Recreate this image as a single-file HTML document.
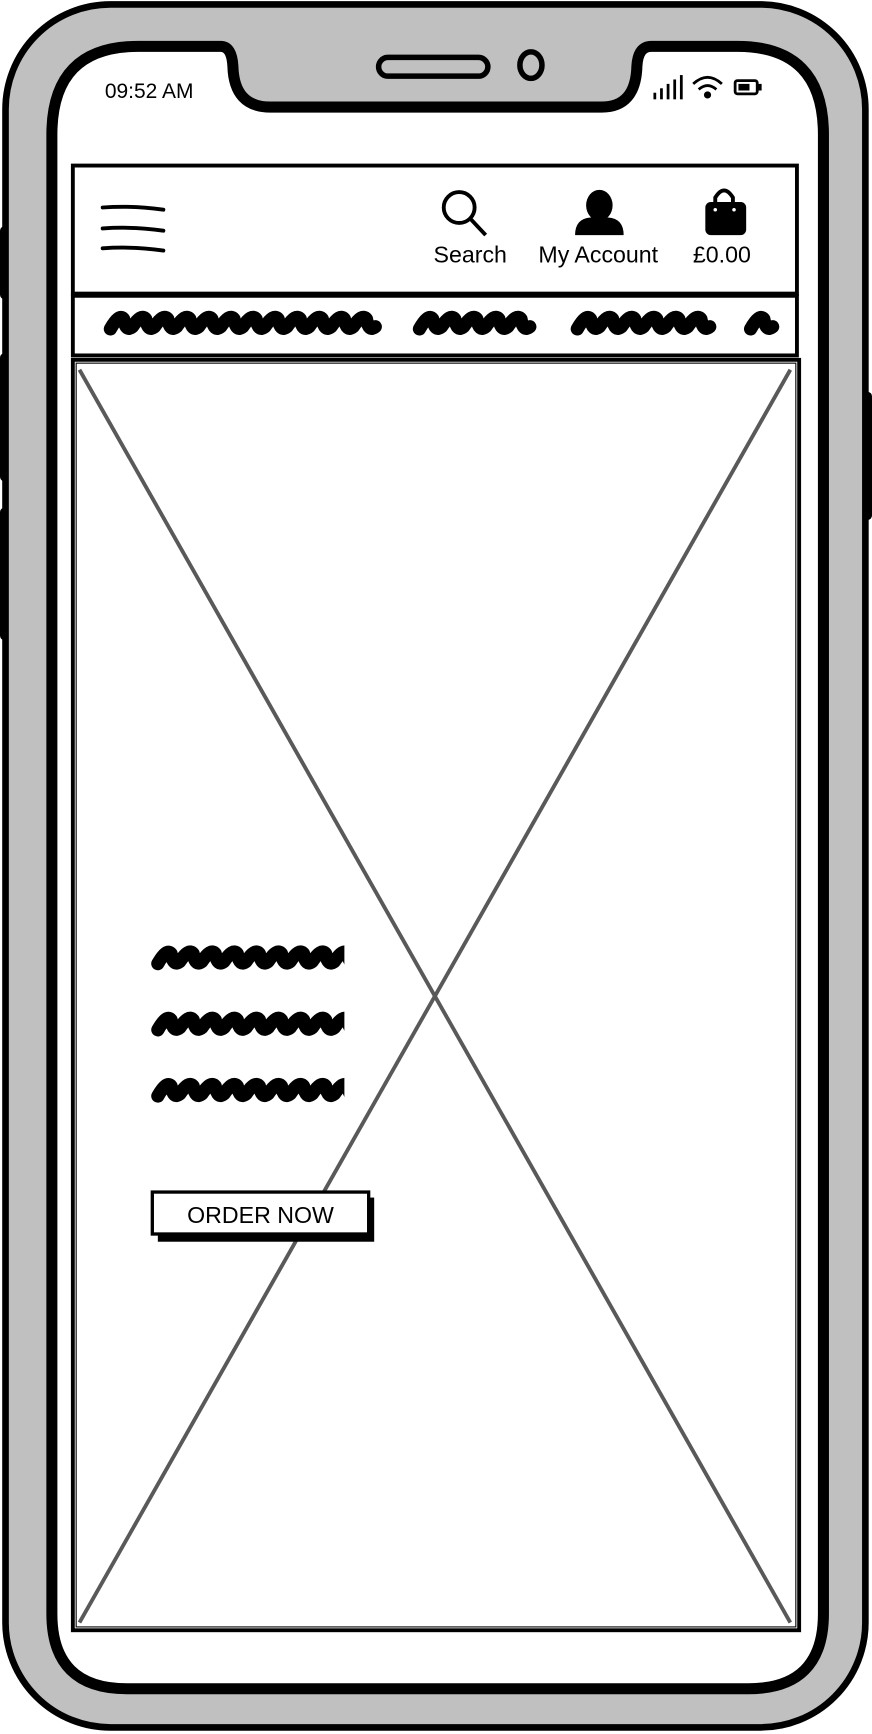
<!DOCTYPE html>
<html><head><meta charset="utf-8"><style>
html,body{margin:0;padding:0;background:#fff;}
svg{display:block;}
text{font-family:"Liberation Sans",sans-serif;fill:#000;}
</style></head><body>
<svg width="872" height="1734" viewBox="0 0 790 1571" preserveAspectRatio="none" xmlns="http://www.w3.org/2000/svg">
  <g fill="#000">
    <rect x="0" y="205" width="10" height="66" rx="4"/>
    <rect x="0" y="320" width="10" height="116" rx="4"/>
    <rect x="0" y="460" width="10" height="120" rx="4"/>
    <rect x="778" y="355" width="12" height="116" rx="4"/>
  </g>
  <rect x="5" y="4" width="779" height="1561" rx="95" fill="#c0c0c0" stroke="#000" stroke-width="6"/>
  <path d="M125 42 L200 42 Q210 42 211 60 Q212 97 245 97 L545 97 Q576 97 577 60 Q578 42 590 42 L668 42 Q746 42 746 122 L746 1462 Q746 1530 678 1530 L115 1530 Q47 1530 47 1462 L47 122 Q47 42 125 42 Z" fill="#fff" stroke="#000" stroke-width="10"/>
  <rect x="343" y="52" width="99" height="17" rx="8.5" fill="none" stroke="#000" stroke-width="5"/>
  <ellipse cx="481" cy="59" rx="10" ry="12" fill="none" stroke="#000" stroke-width="5"/>
  <text x="95" y="89" font-size="19">09:52 AM</text>
  <g fill="#000">
    <rect x="592" y="84" width="2.5" height="6"/><rect x="598" y="80" width="2.5" height="10"/><rect x="604" y="76" width="2.5" height="14"/><rect x="610" y="72" width="2.5" height="18"/><rect x="616" y="68" width="2.5" height="22"/>
  </g>
  <g fill="none" stroke="#000" stroke-width="2.5">
    <path d="M628 76 Q641 64 654 76"/><path d="M633 81 Q641 74 649 81"/><circle cx="641" cy="86" r="2" fill="#000"/>
  </g>
  <g>
    <rect x="666" y="73" width="20" height="12" rx="2" fill="none" stroke="#000" stroke-width="2.5"/>
    <rect x="669" y="76" width="10" height="6" fill="#000"/>
    <rect x="687" y="76" width="3" height="6" fill="#000"/>
  </g>
  <rect x="66" y="150" width="656" height="116" fill="#fff" stroke="#000" stroke-width="3.5"/>
  <g stroke="#000" stroke-width="3.5" stroke-linecap="round">
    <path d="M93 188 Q120 186 148 190"/><path d="M93 207 Q120 205 148 209"/><path d="M93 225 Q120 223 148 227"/>
  </g>
  <g>
    <circle cx="416" cy="188" r="14" fill="none" stroke="#000" stroke-width="3.5"/>
    <line x1="426" y1="198" x2="440" y2="213" stroke="#000" stroke-width="3.5"/>
    <text x="426" y="238" font-size="21" text-anchor="middle">Search</text>
  </g>
  <g>
    <ellipse cx="543" cy="186" rx="12" ry="14" fill="#000"/>
    <path d="M521 213 Q521 198 535 197 L551 197 Q565 198 565 213 Z" fill="#000"/>
    <text x="542" y="238" font-size="21" text-anchor="middle">My Account</text>
  </g>
  <g>
    <path d="M648 186 L648 179 Q656 166 664 179 L664 186" fill="none" stroke="#000" stroke-width="3.5"/>
    <rect x="639" y="183" width="37" height="30" rx="5" fill="#000"/>
    <circle cx="648" cy="190" r="1.6" fill="#fff"/><circle cx="665" cy="190" r="1.6" fill="#fff"/>
    <text x="654" y="238" font-size="21" text-anchor="middle">£0.00</text>
  </g>
  <rect x="66" y="268" width="656" height="54" fill="#fff" stroke="#000" stroke-width="3.5"/>
  <g id="navScrib" fill="none" stroke="#000" stroke-width="12" stroke-linecap="round" stroke-linejoin="round"></g>
  <rect x="66" y="326" width="658" height="1151" fill="#fff" stroke="#000" stroke-width="3.5"/>
  <rect x="69" y="329" width="652" height="1145" fill="none" stroke="#000" stroke-width="1"/>
  <g stroke="#595959" stroke-width="3.5">
    <line x1="72" y1="335" x2="716" y2="1470"/>
    <line x1="716" y1="335" x2="72" y2="1470"/>
  </g>
  <g id="heroScrib" fill="none" stroke="#000" stroke-width="12" stroke-linecap="round" stroke-linejoin="round"></g>
  <g>
    <rect x="143" y="1085" width="196" height="40" fill="#000"/>
    <rect x="138" y="1080" width="196" height="38" fill="#fff" stroke="#000" stroke-width="3"/>
    <text x="236" y="1108" font-size="21" text-anchor="middle">ORDER NOW</text>
  </g>
</svg>
<script>
function scrib(g, x0, x1, yc, clip){
  var d = 'M' + x0 + ' ' + (yc+5);
  var x = x0;
  while (x < x1) {
    d += ' Q' + (x+8) + ' ' + (yc-9) + ' ' + (x+12) + ' ' + (yc-4);
    d += ' Q' + (x+14) + ' ' + (yc+8) + ' ' + (x+20) + ' ' + (yc+3);
    x += 20;
  }
  var p = document.createElementNS('http://www.w3.org/2000/svg','path');
  p.setAttribute('d', d);
  
  
  if (clip) p.setAttribute('clip-path', 'url(#' + clip + ')');
  g.appendChild(p);
}
var svg = document.querySelector('svg');
var defs = document.createElementNS('http://www.w3.org/2000/svg','defs');
defs.innerHTML = '<clipPath id="hc"><rect x="120" y="830" width="192" height="200"/></clipPath>';
svg.insertBefore(defs, svg.firstChild);
var nav = document.getElementById('navScrib');
scrib(nav, 100, 330, 293);
scrib(nav, 380, 475, 293);
scrib(nav, 523, 630, 293);
scrib(nav, 680, 682, 293);
var hero = document.getElementById('heroScrib');
scrib(hero, 143, 320, 868, 'hc');
scrib(hero, 143, 320, 928, 'hc');
scrib(hero, 143, 320, 988, 'hc');
</script>
</body></html>
